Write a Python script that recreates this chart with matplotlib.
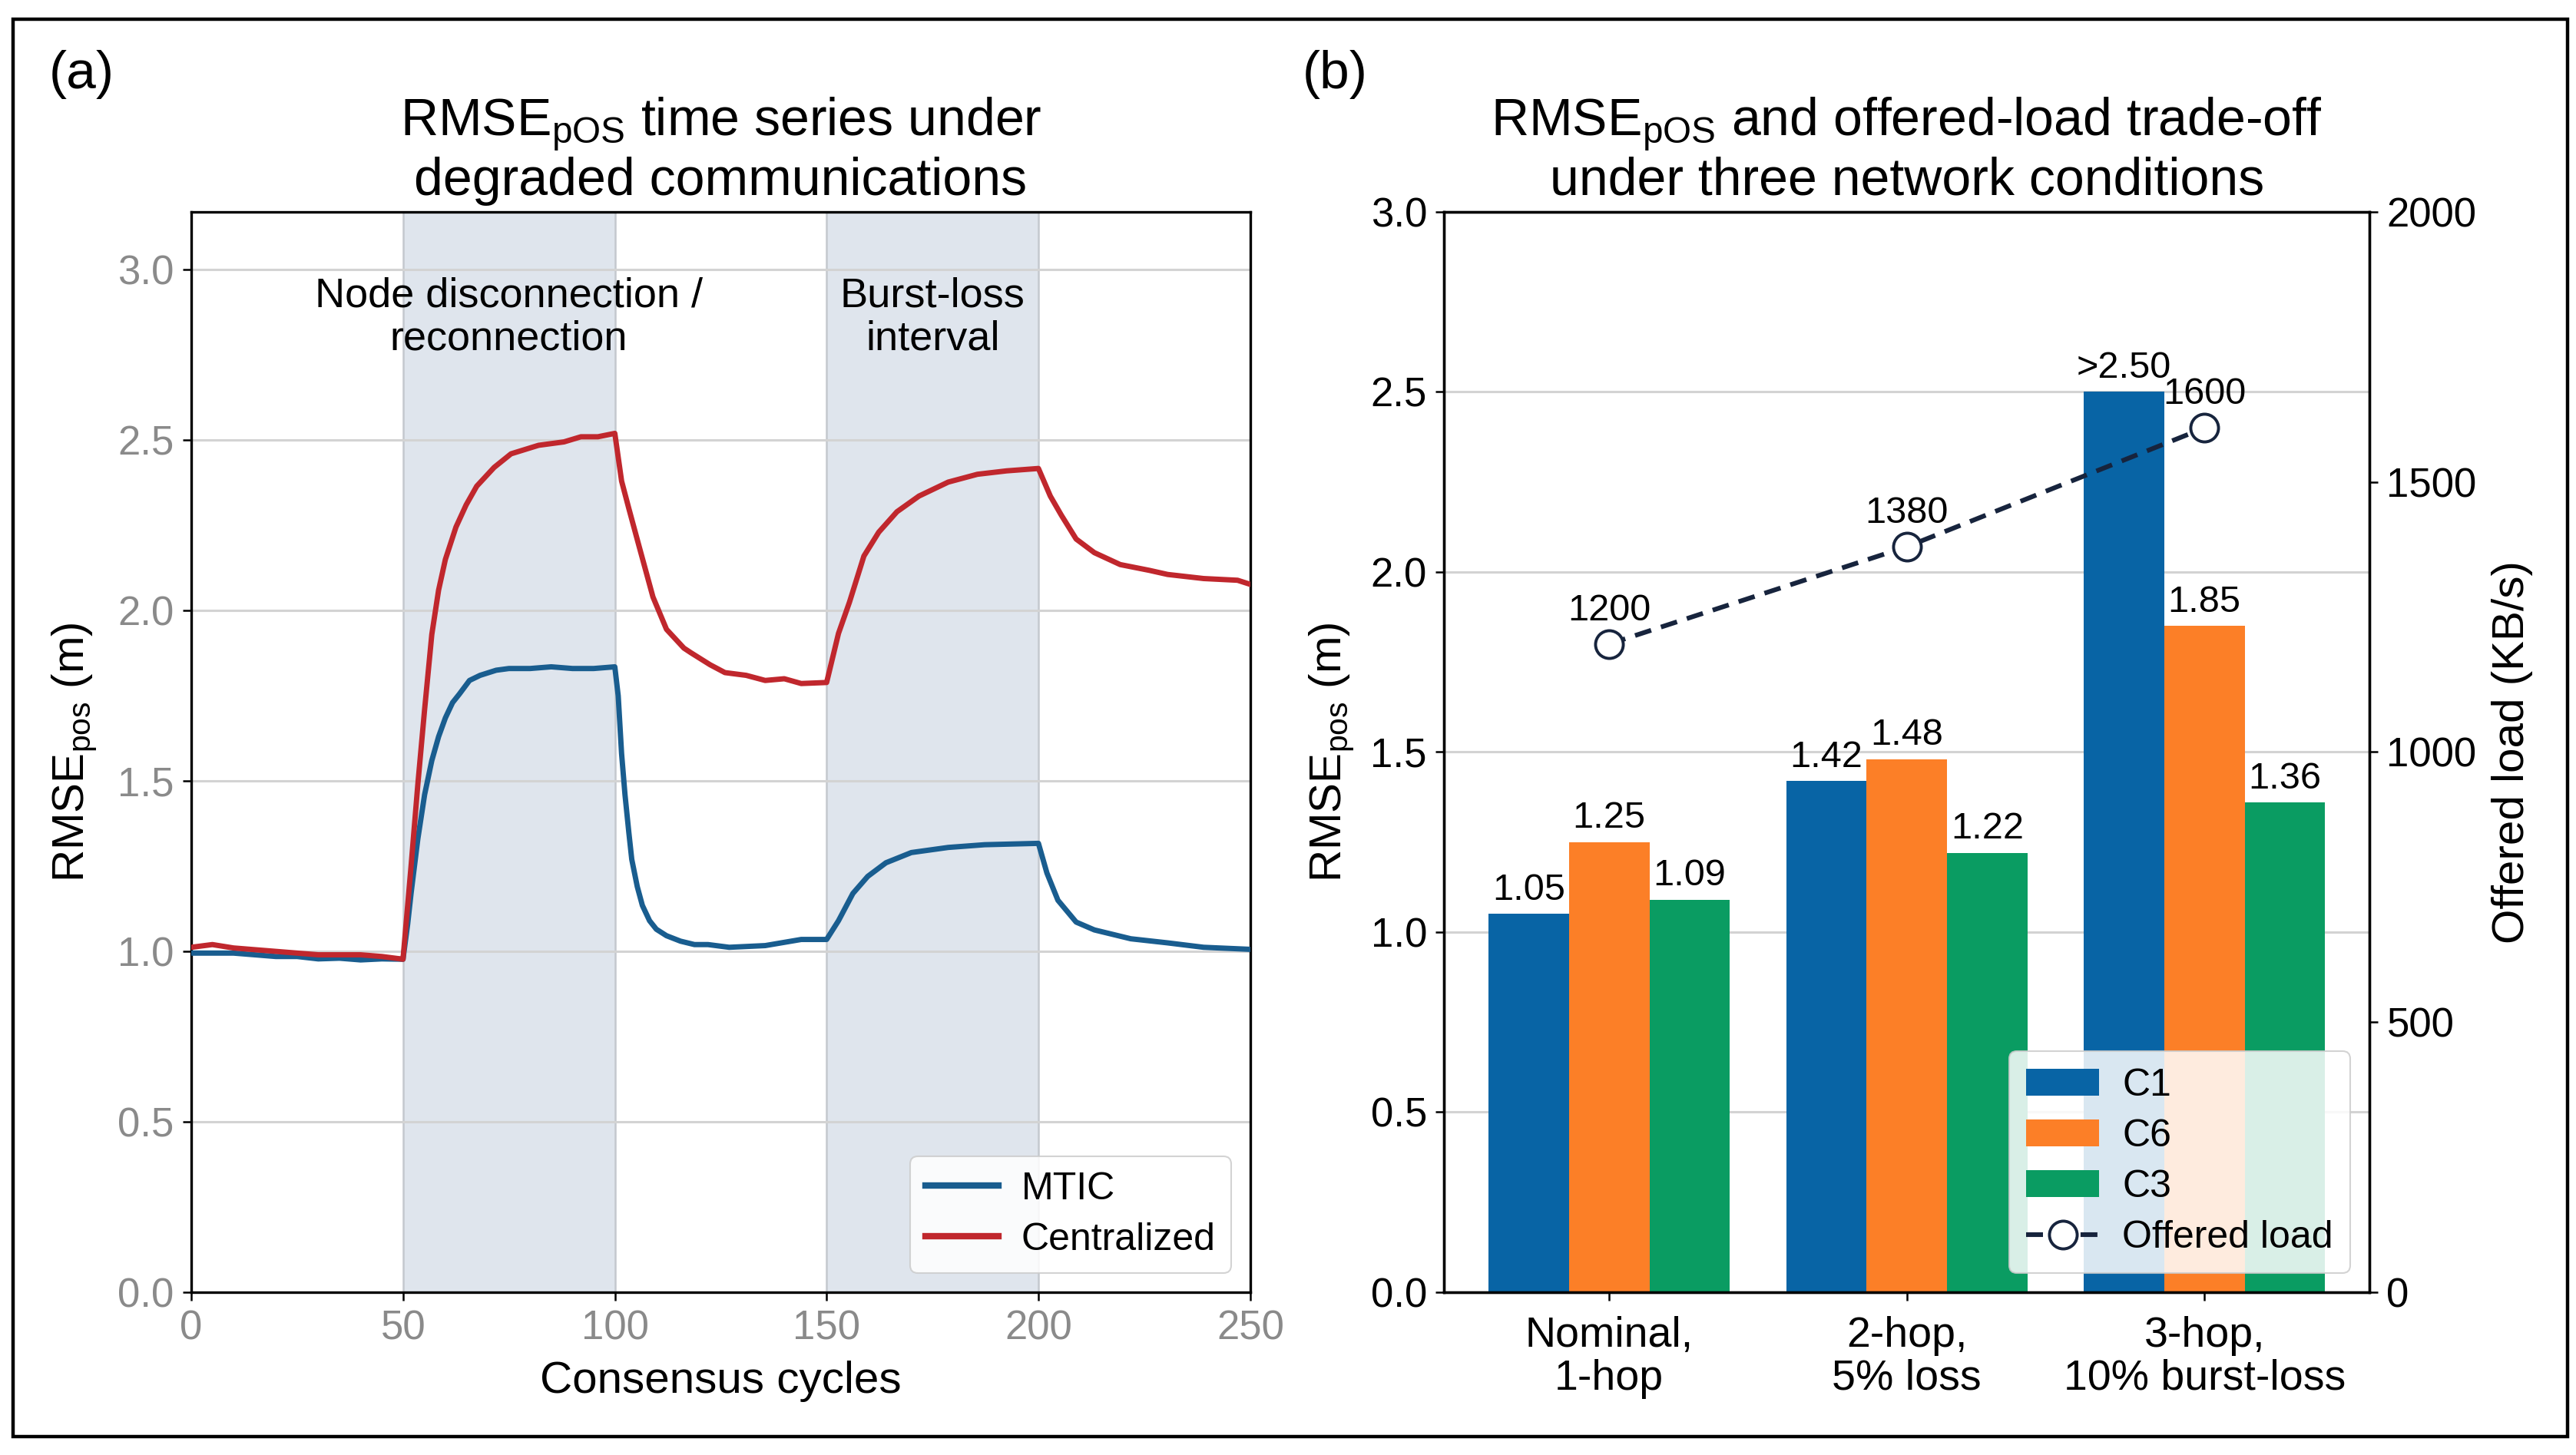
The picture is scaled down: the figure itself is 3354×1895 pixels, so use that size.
import matplotlib
matplotlib.use("Agg")
import matplotlib.pyplot as plt
from matplotlib.patches import Rectangle
import numpy as np

plt.rcParams['font.family'] = ['Liberation Sans', 'DejaVu Sans']
plt.rcParams['mathtext.default'] = 'regular'

# ---- panel (a): RMSE time series ----
mtic_cycles = [0, 5, 10, 15, 20, 25, 30, 35, 40, 45, 50,
               51.1, 51.9, 53.5, 55.1, 56.8, 58.4, 60, 61.7, 63.3, 65.7, 68.2, 72, 75, 80, 85, 90, 95, 100,
               100.8, 101.6, 102.4, 103.3, 104, 105.3, 106.5, 108.2, 109.8, 112.2, 115.5, 118.8,
               122, 127, 135.5, 144, 150,
               152.8, 156.2, 159.7, 164, 170, 178.7, 187.3, 200,
               202, 204.6, 208.9, 213.2, 221.8, 230.5, 239, 250]
mtic_rmse = [0.995, 0.995, 0.995, 0.99, 0.985, 0.985, 0.978, 0.98, 0.975, 0.978, 0.977,
             1.08, 1.17, 1.33, 1.46, 1.56, 1.63, 1.685, 1.73, 1.755, 1.795, 1.81, 1.825, 1.83, 1.83,
             1.835, 1.83, 1.83, 1.835,
             1.75, 1.58, 1.46, 1.35, 1.27, 1.19, 1.135, 1.09, 1.065, 1.046, 1.03, 1.02,
             1.02, 1.012, 1.017, 1.035, 1.035,
             1.09, 1.17, 1.22, 1.26, 1.29, 1.305, 1.313, 1.317,
             1.23, 1.15, 1.086, 1.063, 1.037, 1.025, 1.012, 1.006]

cent_cycles = [0, 5, 10, 15, 20, 25, 30, 35, 40, 45, 50,
               51.9, 53.5, 55.1, 56.8, 58.4, 60, 62.5, 64.9, 67.4, 71.5, 75.5, 82, 88, 92, 96, 100,
               101.6, 103.3, 105.7, 109, 112.2, 116.3, 118, 122.5, 126, 131, 135.5, 140, 144, 150,
               152.8, 155.4, 158.8, 162.3, 166.6, 171.8, 178.7, 185.6, 192.5, 200,
               202.8, 205.4, 208.9, 213.2, 219.3, 226.2, 230.5, 239, 247, 250]
cent_rmse = [1.012, 1.02, 1.01, 1.005, 1.0, 0.995, 0.99, 0.99, 0.99, 0.985, 0.977,
             1.25, 1.49, 1.71, 1.93, 2.06, 2.15, 2.245, 2.31, 2.365, 2.42, 2.46, 2.485, 2.495,
             2.51, 2.51, 2.52,
             2.38, 2.30, 2.19, 2.04, 1.945, 1.89, 1.876, 1.841, 1.818, 1.81, 1.795, 1.80, 1.786, 1.789,
             1.933, 2.025, 2.16, 2.23, 2.29, 2.336, 2.377, 2.40, 2.41, 2.417,
             2.336, 2.28, 2.21, 2.17, 2.135, 2.118, 2.106, 2.094, 2.089, 2.077]

shaded_intervals = [(50, 100), (150, 200)]
interval_labels = ["Node disconnection /\nreconnection", "Burst-loss\ninterval"]

# ---- panel (b): bars + offered load ----
conditions = ["Nominal,\n1-hop", "2-hop,\n5% loss", "3-hop,\n10% burst-loss"]
configs = ["C1", "C6", "C3"]
rmse_c1 = [1.05, 1.42, 2.50]
rmse_c6 = [1.25, 1.48, 1.85]
rmse_c3 = [1.09, 1.22, 1.36]
c1_labels = ["1.05", "1.42", ">2.50"]
offered_load = [1200, 1380, 1600]

blue_line = '#195d8f'
red_line = '#c0272d'
bar_colors = ['#0864a5', '#fc7f27', '#0a9c62']
grid_col = '#d3d3d3'

fig = plt.figure(figsize=(33.55, 18.95), dpi=100)

# ---------------- panel (a) ----------------
ax = fig.add_axes([0.0742, 0.1119, 0.411, 0.7425])
for (a, b) in shaded_intervals:
    ax.axvspan(a, b, facecolor='#dfe5ed', edgecolor='#c4c8ce', lw=1.8, zorder=0)
ax.plot(mtic_cycles, mtic_rmse, color=blue_line, lw=5, label='MTIC', zorder=3,
        solid_joinstyle='round')
ax.plot(cent_cycles, cent_rmse, color=red_line, lw=5, label='Centralized', zorder=3,
        solid_joinstyle='round')
ax.set_xlim(0, 250)
ax.set_ylim(0, 3.17)
ax.set_xticks([0, 50, 100, 150, 200, 250])
ax.set_yticks([0, 0.5, 1.0, 1.5, 2.0, 2.5, 3.0])
ax.set_yticklabels(['0.0', '0.5', '1.0', '1.5', '2.0', '2.5', '3.0'])
ax.yaxis.grid(True, color=grid_col, lw=2.2, zorder=1)
ax.set_axisbelow(True)
ax.tick_params(labelsize=38, labelcolor='#8a8a8a', length=8, width=1.8, pad=8)
for sp in ax.spines.values():
    sp.set_linewidth(2.4)
ax.set_xlabel("Consensus cycles", fontsize=42, labelpad=12)
ax.set_ylabel("RMSE$_{pos}$ (m)", fontsize=42, labelpad=18)
ax.set_title("RMSE$_{pOS}$ time series under\ndegraded communications",
             fontsize=49, pad=16, linespacing=1.1)
for (a, b), txt in zip(shaded_intervals, interval_labels):
    ax.text((a + b) / 2, 2.86, txt, ha='center', va='center', fontsize=39,
            linespacing=1.15, zorder=4)
leg = ax.legend(loc='lower right', fontsize=36, handlelength=1.9, borderpad=0.4,
                labelspacing=0.4, handletextpad=0.6, borderaxespad=0.5, framealpha=0.85)
leg.get_frame().set_edgecolor('#cccccc')
leg.get_frame().set_linewidth(1.5)
for h in leg.get_lines():
    h.set_linewidth(6)

# ---------------- panel (b) ----------------
axb = fig.add_axes([0.5604, 0.1119, 0.3592, 0.7425])
x = np.arange(len(conditions))
w = 0.27
series = [rmse_c1, rmse_c6, rmse_c3]
bar_handles = []
for i, (vals, name) in enumerate(zip(series, configs)):
    bars = axb.bar(x + (i - 1) * w, vals, w, color=bar_colors[i], label=name, zorder=2)
    bar_handles.append(bars)
    labels = c1_labels if i == 0 else ["%.2f" % v for v in vals]
    for xi, v, lab in zip(x + (i - 1) * w, vals, labels):
        axb.annotate(lab, (xi, v), xytext=(0, 6), textcoords='offset points',
                     ha='center', va='bottom', fontsize=35)
axb.set_xlim(-0.555, 2.555)
axb.set_ylim(0, 3.0)
axb.set_yticks([0, 0.5, 1.0, 1.5, 2.0, 2.5, 3.0])
axb.set_yticklabels(['0.0', '0.5', '1.0', '1.5', '2.0', '2.5', '3.0'])
axb.set_xticks(x)
axb.set_xticklabels(conditions, linespacing=1.1)
axb.yaxis.grid(True, color=grid_col, lw=2.2, zorder=0)
axb.set_axisbelow(True)
axb.tick_params(labelsize=38, length=8, width=1.8, pad=8)
axb.tick_params(axis='x', labelsize=40, pad=14)
axb.set_ylabel("RMSE$_{pos}$ (m)", fontsize=42, labelpad=14)
axb.set_title("RMSE$_{pOS}$ and offered-load trade-off\nunder three network conditions",
              fontsize=49, pad=16, linespacing=1.1)

ax2 = axb.twinx()
ln, = ax2.plot(x, offered_load, color='#17243d', ls=(0, (3.6, 2.2)), lw=4.4,
               marker='o', markersize=26, markerfacecolor='white',
               markeredgecolor='#17243d', markeredgewidth=2.8, label='Offered load', zorder=5)
for xi, v in zip(x, offered_load):
    ax2.annotate(str(v), (xi, v), xytext=(0, 15), textcoords='offset points',
                 ha='center', va='bottom', fontsize=35)
ax2.set_ylim(0, 2000)
ax2.set_yticks([0, 500, 1000, 1500, 2000])
ax2.tick_params(labelsize=38, length=8, width=1.8, pad=8)
ax2.set_ylabel("Offered load (KB/s)", fontsize=42, labelpad=14)
for a_ in (axb, ax2):
    for sp in a_.spines.values():
        sp.set_linewidth(2.4)

handles = bar_handles + [ln]
legb = ax2.legend(handles, configs + ['Offered load'], loc='lower right', fontsize=36,
                  handlelength=1.9, borderpad=0.45, labelspacing=0.4, handletextpad=0.6,
                  borderaxespad=0.5, framealpha=0.85)
legb.get_frame().set_edgecolor('#cccccc')
legb.get_frame().set_linewidth(1.5)

# panel letters
fig.text(0.019, 1 - 97 / 1895, "(a)", fontsize=50, va='center', ha='left')
fig.text(0.5055, 1 - 97 / 1895, "(b)", fontsize=50, va='center', ha='left')

# outer frame
fig.patches.append(Rectangle((0.00507, 0.01266), 0.99133, 0.97414, transform=fig.transFigure,
                             fill=False, edgecolor='black', lw=3.2, zorder=10))

fig.savefig("out.png", dpi=100)
